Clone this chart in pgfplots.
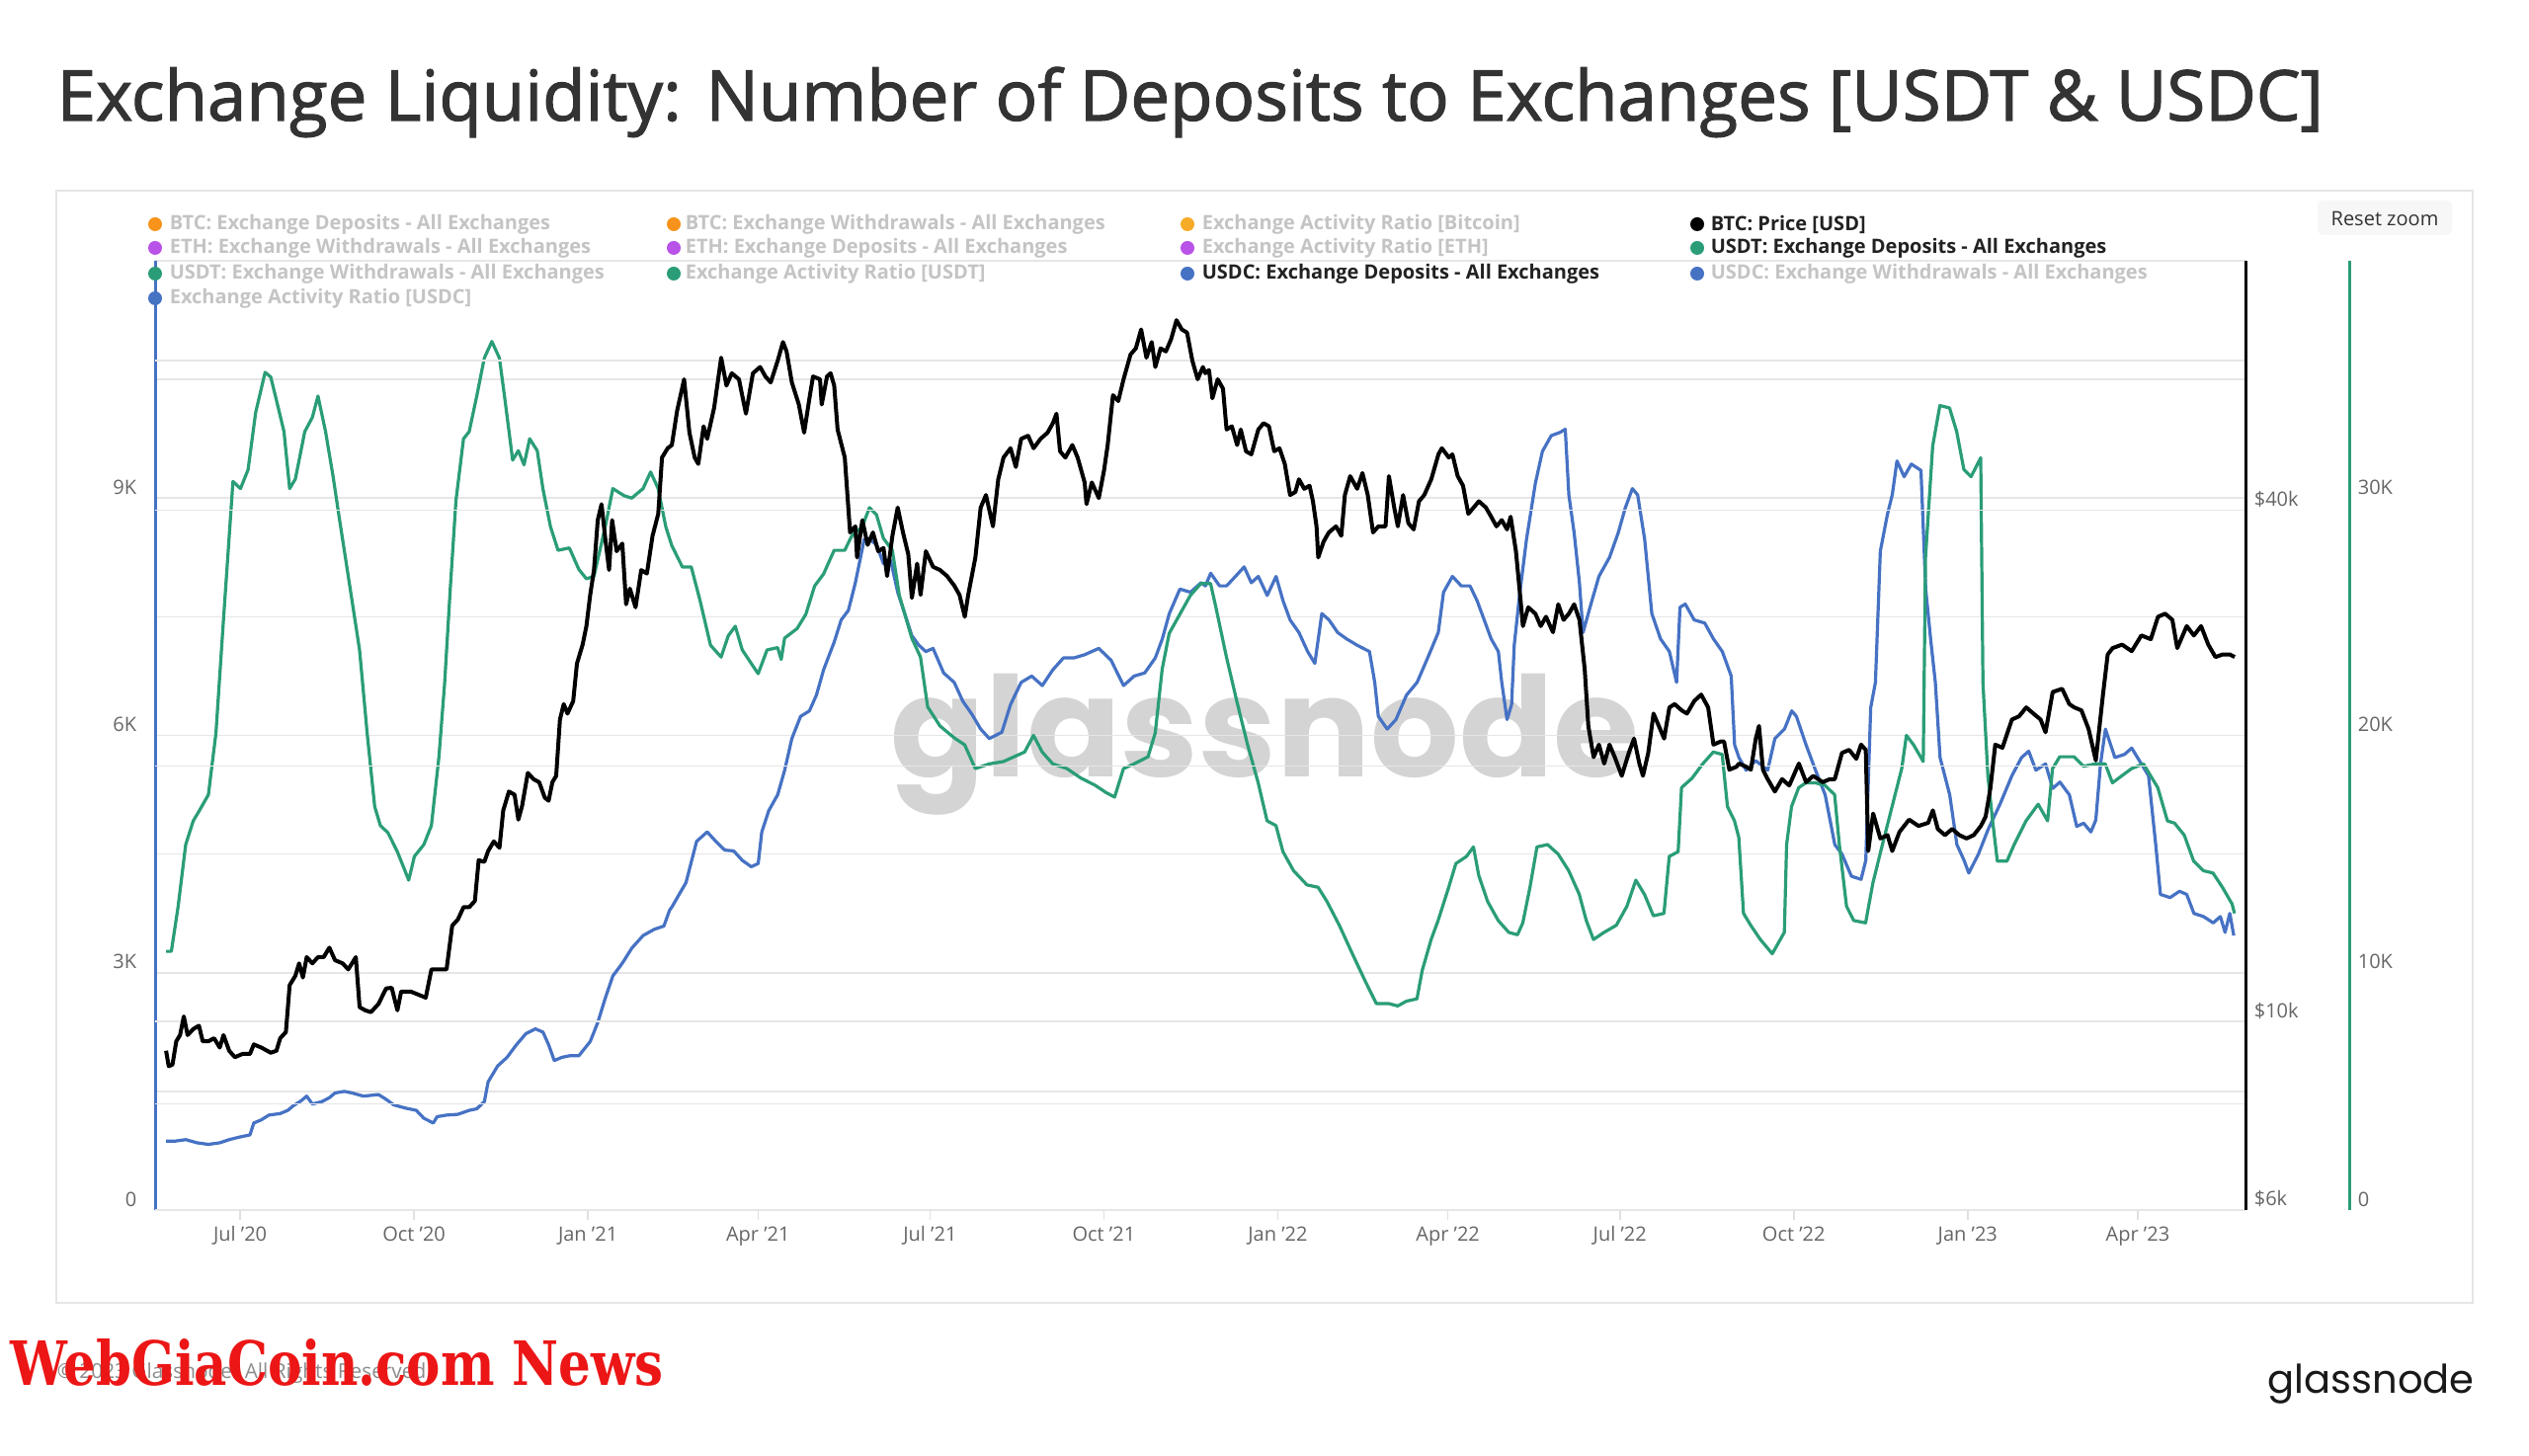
\documentclass[border=0pt]{standalone}
\usepackage{fontspec}
\setmainfont{Open Sans}
\newfontfamily\titlefont{Open Sans}[FakeBold=1.6]
\newfontfamily\logofont{Poppins}
\newfontfamily\stampfont{DejaVu Serif}
\usepackage{graphicx}
\usepackage{pgfplots}
\usepackage{pgfplotstable}
\pgfplotsset{compat=1.18}

\definecolor{usdt}{RGB}{42,157,120}
\definecolor{usdc}{RGB}{70,114,196}
\definecolor{btcor}{RGB}{247,147,26}
\definecolor{ratior}{RGB}{246,172,40}
\definecolor{ethpu}{RGB}{184,82,232}
\definecolor{txtgray}{RGB}{102,102,102}
\definecolor{leggray}{RGB}{196,196,196}
\definecolor{legdark}{RGB}{34,34,34}
\definecolor{gridgray}{RGB}{230,230,230}
\definecolor{titlegray}{RGB}{51,51,51}

% x: days since 1 Jul 2020
\pgfplotstableread{
d v
-39.2 9240
-37.8 8860
-35.8 8900
-33.8 9480
-31.8 9640
-29.8 10140
-27.8 9640
-24.8 9800
-21.8 9890
-19.8 9480
-16.8 9480
-13.8 9560
-10.8 9320
-8.8 9640
-5.8 9240
-2.8 9080
1.2 9160
5.2 9160
7.2 9400
11.2 9320
16.2 9190
19.2 9240
21.2 9560
24.2 9720
26.2 11040
29.2 11320
31.2 11710
33.2 11270
35.2 11910
38.2 11710
41.2 11910
44.2 11910
47.2 12220
50.2 11810
54.2 11710
57.2 11520
61.2 11910
63.2 10400
66.2 10310
69.2 10260
73.2 10490
77.2 10940
80.2 10960
83.2 10310
85.2 10850
90.2 10850
94.2 10760
98.2 10670
101.2 11520
105.2 11520
109.2 11520
112.2 12970
115.2 13190
118.2 13640
121.2 13640
124.2 13870
126.2 15490
129.2 15420
131.2 15880
134.2 16300
137.2 16020
139.2 17730
142.2 18660
145.2 18500
147.2 17290
149.2 17960
152.2 19630
155.2 19300
158.2 19140
161.2 18350
163.2 18200
165.2 19140
167.2 19470
169.2 22680
171.2 23650
173.2 23050
176.2 23840
178.2 26400
181.2 27790
183.2 29220
185.2 31800
187.2 34020
189.2 38950
191.2 40670
193.2 37020
195.2 34020
196.8 38950
199.2 35800
202.2 36550
204.2 31000
206.2 32350
209.2 30750
212.2 34020
215.2 33700
218.2 37330
221.2 39620
223.2 46150
226.2 47330
228.4 47740
231.2 52400
234.9 57060
237.7 49380
240.5 46150
242.4 45360
245.2 50230
247.1 48550
250.8 52850
254.5 60500
257.3 56090
260.1 58000
263.9 57060
267.6 51980
271.3 58000
275.1 58990
277.9 57500
280.7 56570
284.4 60000
287.2 63120
289.1 61540
291.9 56570
295.6 53280
298.4 49380
301.2 54190
303.1 57500
306.8 57060
307.7 53280
310.5 57500
312.4 58000
314.3 56090
316.1 49790
319.9 46150
322.7 37670
325.5 38300
326.4 35200
329.2 38950
332 36420
334.8 37670
337.6 35800
340.4 36110
342.3 33470
345.1 37330
347.9 40300
350.7 37670
353.5 35500
355.4 31540
358.2 34620
360 31800
362.8 35800
366.6 34320
370.3 34020
374 33470
377.8 32620
380.6 31800
383.4 29970
385.2 31800
389 35200
391.8 40300
394.6 41690
398.3 38300
401.1 43510
403.9 46150
407.6 47330
410.4 44980
413.2 48550
416.9 48960
419.8 47330
423.5 48550
427.2 49380
430 50650
431.9 51980
433.8 46940
436.6 46150
440.3 47740
443.1 46150
446.8 43140
447.8 40670
450.6 43140
454.3 41350
457.1 44610
459 47740
461.8 54650
464.6 53790
467.4 57060
471.1 61040
473.9 62050
476.7 65320
479.5 60500
482.3 63120
484.2 58990
487 62050
489.8 61540
492.6 63660
495.4 66970
498.2 65320
501 64750
503.8 60000
506.6 57060
509.4 58990
510.7 58000
512.6 58500
514.4 54190
517.2 57060
520 55640
521.9 49790
524.7 50230
527.5 47740
529.4 49790
532.2 46940
535 46550
538.7 49790
541.5 50650
544.3 50230
547.1 46940
549.9 47330
552.7 45360
555.5 41690
558.3 42040
560.2 43510
563 42400
565.8 42760
567.6 40990
569.5 38300
570.4 35200
573.2 36730
576 37670
579.8 38300
582.6 37330
584.5 41690
587.3 43880
591 42400
593.8 44250
596.6 41690
599.4 37670
602.2 38300
606 38300
607.8 43880
610.6 40300
612.5 38300
615.3 41690
618.1 38630
620.9 37980
623.7 40990
626.5 41690
630.2 43510
634 46550
635.8 47330
639.5 46150
641.4 46550
644.2 43880
647 42760
649.8 39620
652.6 40300
655.4 40990
659.1 40300
661.9 39310
664.7 38300
667.5 38950
670.3 37980
672.2 39310
675 35800
677.8 30750
678.7 29220
681.5 30750
685.3 30220
688.1 29220
690.9 29970
694.6 28740
697.4 31000
700.2 29720
703 30220
705.8 31000
708.6 29720
711.4 25970
713.3 22290
716.1 20480
718.9 21190
721.7 20130
724.5 21190
727.3 20480
731 19470
734.7 20720
737.5 21540
740.3 20130
742.2 19470
745 20720
747.8 23050
750.6 22290
753.4 21540
756.2 23440
759 23650
762.7 23250
765.5 23050
769.3 23840
773 24270
776.7 23440
779.5 21190
783.3 21370
785.1 21370
787.9 19800
791.7 19960
793 20130
796.8 19960
799.3 19800
801.9 21540
803.6 22290
805.7 19800
808.2 19300
812 18660
815.8 19300
819.6 18970
824.7 20130
828.5 19140
832.3 19470
837.3 19140
841.1 19300
843.7 19300
847.5 20720
851.3 20890
855.1 20390
857.6 21190
860.1 20890
861.4 15880
864 17580
867.8 16430
871.6 16580
874.1 15880
877.9 16720
883 17290
888 17000
893.1 17140
895.6 17730
898.2 16860
902 16580
905.8 16860
909.6 16580
913.4 16430
917.2 16580
921 17000
923.5 17430
926 18810
928.6 21190
932.4 21010
937.4 22680
941.2 22880
945 23440
948.8 23050
952.6 22680
955.2 21910
959 24440
964 24650
967.8 23650
970.4 23440
974.2 23250
978 22100
981.8 20300
985.6 24270
988.1 27060
990.7 27530
995.7 27790
1000.8 27300
1005.9 28490
1010.9 28200
1014.7 29970
1018.5 30220
1022.3 29720
1024.9 27530
1029.9 29220
1033.7 28490
1037.5 29220
1041.3 27790
1045.1 26870
1048.9 27060
1052.7 27060
1055.3 26870
}\btcprice

\pgfplotstableread{
d v
-39.2 10900
-36.4 10900
-32.8 12800
-28.8 15400
-24.8 16400
-21.8 16800
-16.8 17500
-12.8 20100
-8.8 24900
-3.8 30700
0.2 30400
4.2 31200
8.2 33600
13.2 35300
16.2 35100
20.2 33800
23.2 32800
26.2 30400
29.2 30800
34.2 32800
38.2 33400
41.2 34300
45.2 32800
49.2 30900
52.2 29300
58.2 26200
63.2 23600
67.2 20100
71.2 17000
74.2 16200
78.2 15900
83.2 15100
87.2 14300
89.2 13900
92.2 14900
97.2 15400
101.2 16200
105.2 19100
108.2 22200
111.2 26200
114.2 29900
118.2 32500
121.2 32800
125.2 34300
129.2 35900
133.2 36600
137.2 35900
140.2 34100
144.2 31600
147.2 32000
150.2 31400
153.2 32500
157.2 32000
160.2 30400
164.2 28800
168.2 27800
174.2 27900
179.2 27000
183.2 26600
187.2 26700
193.2 28800
197.2 30400
203.2 30100
207.2 30000
213.2 30400
217.2 31100
221.2 30400
225.2 28800
228.4 28000
234 27100
238.7 27100
243.3 25700
248.9 23800
254.5 23300
258.3 24200
262 24600
265.7 23600
274.1 22600
278.8 23600
284.4 23700
286.3 23200
288.1 24100
294.7 24500
299.3 25100
304 26300
308.7 26800
314.3 27800
319.9 27800
323.6 28400
329.2 28800
333 29600
336.7 29300
340.4 28300
345.1 27800
348.8 25900
355.4 24100
360 23300
363.8 21200
370.3 20400
377.8 19900
383.4 19600
389 18600
396.4 18800
403.9 18900
409.5 19100
415.1 19300
419.8 20000
424.4 19300
430 18800
437.5 18600
444.9 18200
452.4 17900
458 17600
462.7 17400
467.4 18600
473 18800
480.4 19100
484.2 20100
487.9 22800
491.6 24300
497.2 25100
502.8 25900
508.4 26400
513.5 26400
516.3 25400
521.9 23300
527.5 21400
533.1 19600
538.7 18000
543.4 16400
548.1 16200
551.8 15100
557.4 14300
564.5 13700
570.4 13600
575.1 13000
581.6 12000
589.1 10700
595.6 9600
601.2 8700
607.8 8700
612.5 8600
617.1 8800
622.7 8900
625.5 10100
630.2 11400
633.9 12200
639.5 13600
643.3 14600
648.9 14900
652.6 15300
655.4 14100
660.1 13000
665.7 12200
671.3 11700
675.9 11600
678.7 12100
682.5 13600
686.2 15300
691.8 15400
697.4 15000
703 14300
708.6 13300
712.3 12200
716.1 11400
721.7 11700
728.2 12000
733.8 12800
738.5 13900
743.1 13300
747.8 12400
753.4 12500
756.2 14900
760.9 15100
762.7 17800
768.3 18200
773.9 18800
779.5 19300
784.2 19200
787 17000
790.7 16400
793 15700
795.5 12500
799.3 12000
804.4 11400
810.7 10800
817.1 11700
818.3 15400
820.9 17000
824.7 17800
828.5 18000
833.5 18000
838.6 17900
843.7 17500
846.2 15400
850 12800
853.8 12200
860.1 12100
864 13800
869 15400
874.1 17000
879.2 18600
881.7 20000
885.5 19600
890.6 18900
891.8 27500
895.6 32200
899.4 33900
904.5 33800
908.3 32800
912.1 31200
915.9 30900
921 31700
922.2 22200
924.8 18300
927.3 16400
929.8 14700
934.9 14700
938.7 15400
945 16400
951.4 17100
956.4 16400
959 18600
962.8 19100
970.4 19100
975.4 18700
981.8 18800
986.9 18800
990.7 18000
995.7 18300
1000.8 18600
1007.1 18800
1010.9 18300
1014.7 17800
1019.8 16400
1023.6 16300
1028.7 15800
1033.7 14700
1038.8 14300
1043.9 14200
1048.9 13600
1054 12900
1055.3 12500
}\usdtdep

\pgfplotstableread{
d v
-39.2 870
-34.8 870
-28.8 890
-22.8 850
-16.8 830
-10.8 850
-5.8 890
-0.8 920
5.2 950
7.2 1100
11.2 1140
15.2 1200
21.2 1220
25.2 1260
28.2 1320
32.2 1380
35.2 1440
38.2 1340
43.2 1370
47.2 1420
50.2 1480
55.2 1500
59.2 1480
65.2 1440
73.2 1460
77.2 1400
81.2 1330
87.2 1290
93.2 1260
97.2 1160
102.2 1100
104.2 1180
109.2 1200
115.2 1210
121.2 1260
125.2 1280
129.2 1370
131.2 1620
136.2 1820
141.2 1930
146.2 2090
151.2 2230
156.2 2290
160.2 2250
163.2 2090
166.2 1890
170.2 1930
174.2 1950
179.2 1950
185.2 2130
189.2 2370
193.2 2680
197.2 2960
202.2 3120
207.2 3310
213.2 3470
219.2 3550
224.2 3590
227.2 3790
228.4 3830
235.9 4140
241.5 4660
247.1 4780
251.7 4660
256.4 4550
261.1 4540
265.7 4420
270.4 4340
274.1 4380
276 4780
279.7 5050
284.4 5250
288.1 5560
291.9 5960
296.5 6240
301.2 6310
304.9 6510
308.7 6830
314.3 7180
318 7460
321.8 7580
325.5 7930
330.2 8480
333 8480
336.7 8410
340.4 8170
344.2 8210
347.9 7810
351.6 7540
355.4 7260
359.1 7140
362.8 7060
366.6 7100
372.2 6790
377.8 6670
382.4 6430
387.1 6270
391.8 6080
396.4 5960
403 6040
407.6 6390
413.2 6670
418.8 6750
424.4 6630
430 6830
435.6 6980
441.2 6980
446.8 7020
454.3 7100
460.8 6950
467.4 6630
473 6750
478.6 6790
484.2 6980
487.9 7220
491.6 7540
497.2 7850
502.8 7810
508.4 7930
510.7 7890
513.5 8050
518.2 7890
521.9 7890
526.6 8010
531.2 8130
535 7930
538.7 8010
543.4 7770
548.1 8010
551.8 7700
555.5 7460
560.2 7300
564.8 7060
568.6 6910
572.3 7540
576.1 7460
580.7 7300
585.4 7220
591 7140
597.5 7060
600.3 6670
602.2 6240
606.9 6080
611.5 6200
617.1 6510
622.7 6670
628.3 6980
633.9 7300
636.7 7810
641.4 8010
646.1 7890
650.7 7890
654.5 7700
658.2 7460
661.9 7220
665.7 7060
667.5 6670
670.3 6200
672.7 6390
674.1 7140
676.9 7770
680.6 8480
685.3 9190
689 9590
693.7 9790
698.3 9830
701.1 9870
703 9040
705.8 8560
708.6 7930
710.5 7300
714.2 7620
718.9 8010
724.5 8250
729.1 8560
732.9 8880
736.6 9120
739.4 9040
743.1 8480
746.9 7540
751.5 7220
756.2 7060
760 6670
761.8 7620
764.6 7660
769.3 7460
774.9 7420
779.5 7220
784.2 7060
788.9 6750
790.7 5880
793 5720
796.8 5560
801.9 5680
808.2 5560
812 5960
817.1 6080
820.9 6310
823.4 6240
828.5 5880
833.5 5560
838.6 5250
843.7 4620
847.5 4500
852.5 4220
857.6 4180
860.1 4420
862.7 6350
865.2 6670
867.8 8330
871.6 8800
874.1 9040
876.6 9470
880.4 9270
884.2 9430
889.3 9350
891.8 7850
894.4 7220
896.9 6670
899.4 5720
904.5 5250
908.3 4620
912.1 4420
914.6 4260
919.7 4500
924.8 4810
931.1 5130
937.4 5490
942.5 5720
946.3 5800
950.1 5560
955.2 5640
959 5330
962.8 5410
967.8 5250
971.7 4850
975.4 4890
979.2 4780
981.8 4930
984.3 5640
986.9 6080
991.9 5720
997 5760
1000.8 5840
1005.9 5640
1009.7 5490
1013.5 4620
1016 3990
1021.1 3950
1026.1 4030
1029.9 3990
1033.7 3750
1038.8 3710
1043.9 3630
1047.7 3710
1050.2 3510
1052.7 3750
1054.8 3470
}\usdcdep

\pgfplotsset{
  frame/.style={
    scale only axis, width=529pt, height=240.25pt,
    at={(39.25pt,-306.25pt)}, anchor=south west,
    xmin=-45, xmax=1061,
    tick label style={font=\fontsize{5}{6}\selectfont, text=txtgray},
    axis line style={-},
    separate axis lines,
    scaled y ticks=false,
  },
}

\begin{document}
\begin{tikzpicture}[x=0.25pt,y=-0.25pt]
\fill[white] (0,0) rectangle (2560,1474);
\useasboundingbox (0,0) rectangle (2560,1474);

% title
\node[anchor=base west, inner sep=0pt, text=titlegray] at (57,122)
  {\resizebox{573.5pt}{!}{\titlefont Exchange Liquidity: Number of Deposits to Exchanges [USDT \& USDC]}};

% chart card
\draw[gridgray, line width=0.5pt] (57,193) rectangle (2503,1319);

% watermark
\node[anchor=base west, inner sep=0pt, text=black!17] at (901,787)
  {\resizebox{189.5pt}{!}{\logofont\bfseries glassnode}};

% USDC deposits, left axis
\begin{axis}[frame,
  ymin=0, ymax=12000,
  axis x line*=bottom, axis y line*=left,
  x axis line style={-, draw=black!20, line width=0.5pt},
  y axis line style={-, draw=usdc, line width=0.75pt},
  xtick={0,92,184,274,365,457,549,639,730,822,914,1004},
  xticklabels={Jul '20,Oct '20,Jan '21,Apr '21,Jul '21,Oct '21,Jan '22,Apr '22,Jul '22,Oct '22,Jan '23,Apr '23},
  ytick={0,1500,3000,4500,6000,7500,9000,10500,12000},
  yticklabels={0,,3K,,6K,,9K,,},
  ymajorgrids,
  grid style={draw=gridgray, line width=0.4pt},
  xtick style={draw=black!12, line width=0.4pt},
  ytick style={draw=none},
  major tick length=2.5pt, tick align=outside,
  xticklabel style={anchor=north, inner sep=0pt, yshift=-1.5pt},
  yticklabel style={anchor=east, inner sep=0pt, xshift=-2pt, yshift=2.75pt},
]
\addplot[usdc, line width=0.8pt, line join=round] table[x=d, y=v] {\usdcdep};
\end{axis}

% USDT deposits, outer right axis
\begin{axis}[frame, width=555.25pt, xmax=1116,
  ymin=0, ymax=40000,
  hide x axis, axis y line*=right,
  y axis line style={-, draw=usdt, line width=0.75pt},
  ytick={0,10000,20000,30000},
  yticklabels={0,10K,20K,30K},
  ytick style={draw=none},
  yticklabel style={anchor=west, inner sep=0pt, xshift=2pt, yshift=2.75pt},
]
\addplot[usdt, line width=0.8pt, line join=round] table[x=d, y=v] {\usdtdep};
\end{axis}

% BTC price, log right axis
\begin{axis}[frame,
  ymode=log, ymin=6000, ymax=78700,
  hide x axis, axis y line*=right,
  y axis line style={-, draw=black, line width=0.75pt},
  ytick={6000,8000,10000,20000,40000,60000},
  yticklabels={\$6k,,\$10k,,\$40k,},
  ymajorgrids,
  grid style={draw=gridgray, line width=0.4pt},
  ytick style={draw=none},
  yticklabel style={anchor=west, inner sep=0pt, xshift=2pt, yshift=2.75pt},
]
\addplot[black, line width=1pt, line join=round] table[x=d, y=v] {\btcprice};
\end{axis}

% legend
\begin{scope}[font=\fontsize{5}{6}\selectfont\bfseries]
\fill[btcor] (157,227) circle[radius=7];
\node[anchor=west, inner sep=0pt, text=leggray] at (171,227) {BTC: Exchange Deposits - All Exchanges};
\fill[btcor] (682,227) circle[radius=7];
\node[anchor=west, inner sep=0pt, text=leggray] at (693,227) {BTC: Exchange Withdrawals - All Exchanges};
\fill[ratior] (1202,227) circle[radius=7];
\node[anchor=west, inner sep=0pt, text=leggray] at (1216,227) {Exchange Activity Ratio [Bitcoin]};
\fill[black] (1718,227) circle[radius=7];
\node[anchor=west, inner sep=0pt, text=legdark] at (1731,227) {BTC: Price [USD]};

\fill[ethpu] (157,251) circle[radius=7];
\node[anchor=west, inner sep=0pt, text=leggray] at (171,251) {ETH: Exchange Withdrawals - All Exchanges};
\fill[ethpu] (682,251) circle[radius=7];
\node[anchor=west, inner sep=0pt, text=leggray] at (693,251) {ETH: Exchange Deposits - All Exchanges};
\fill[ethpu] (1202,251) circle[radius=7];
\node[anchor=west, inner sep=0pt, text=leggray] at (1216,251) {Exchange Activity Ratio [ETH]};
\fill[usdt] (1718,251) circle[radius=7];
\node[anchor=west, inner sep=0pt, text=legdark] at (1731,251) {USDT: Exchange Deposits - All Exchanges};

\fill[usdt] (157,277) circle[radius=7];
\node[anchor=west, inner sep=0pt, text=leggray] at (171,277) {USDT: Exchange Withdrawals - All Exchanges};
\fill[usdt] (682,277) circle[radius=7];
\node[anchor=west, inner sep=0pt, text=leggray] at (693,277) {Exchange Activity Ratio [USDT]};
\fill[usdc] (1202,277) circle[radius=7];
\node[anchor=west, inner sep=0pt, text=legdark] at (1216,277) {USDC: Exchange Deposits - All Exchanges};
\fill[usdc] (1718,277) circle[radius=7];
\node[anchor=west, inner sep=0pt, text=leggray] at (1731,277) {USDC: Exchange Withdrawals - All Exchanges};

\fill[usdc] (157,302) circle[radius=7];
\node[anchor=west, inner sep=0pt, text=leggray] at (171,302) {Exchange Activity Ratio [USDC]};
\end{scope}

% reset zoom button
\fill[black!3, rounded corners=1.5pt] (2346,203) rectangle (2482,238);
\node[text=titlegray, inner sep=0pt, font=\fontsize{5}{6}\selectfont] at (2414,221) {Reset zoom};

% footer
\node[anchor=west, inner sep=0pt, text=black!45, font=\fontsize{5.2}{6}\selectfont] at (57,1390) {© 2023 Glassnode. All Rights Reserved.};
\node[anchor=south west, inner sep=0pt, text={rgb,255:red,236;green,22;blue,22}] at (10,1404)
  {\resizebox{165.25pt}{11.75pt}{\stampfont\bfseries WebGiaCoin.com News}};
\node[anchor=base west, inner sep=0pt, text=black!90] at (2295,1410)
  {\resizebox{52.25pt}{!}{\logofont glassnode}};
\end{tikzpicture}
\end{document}
